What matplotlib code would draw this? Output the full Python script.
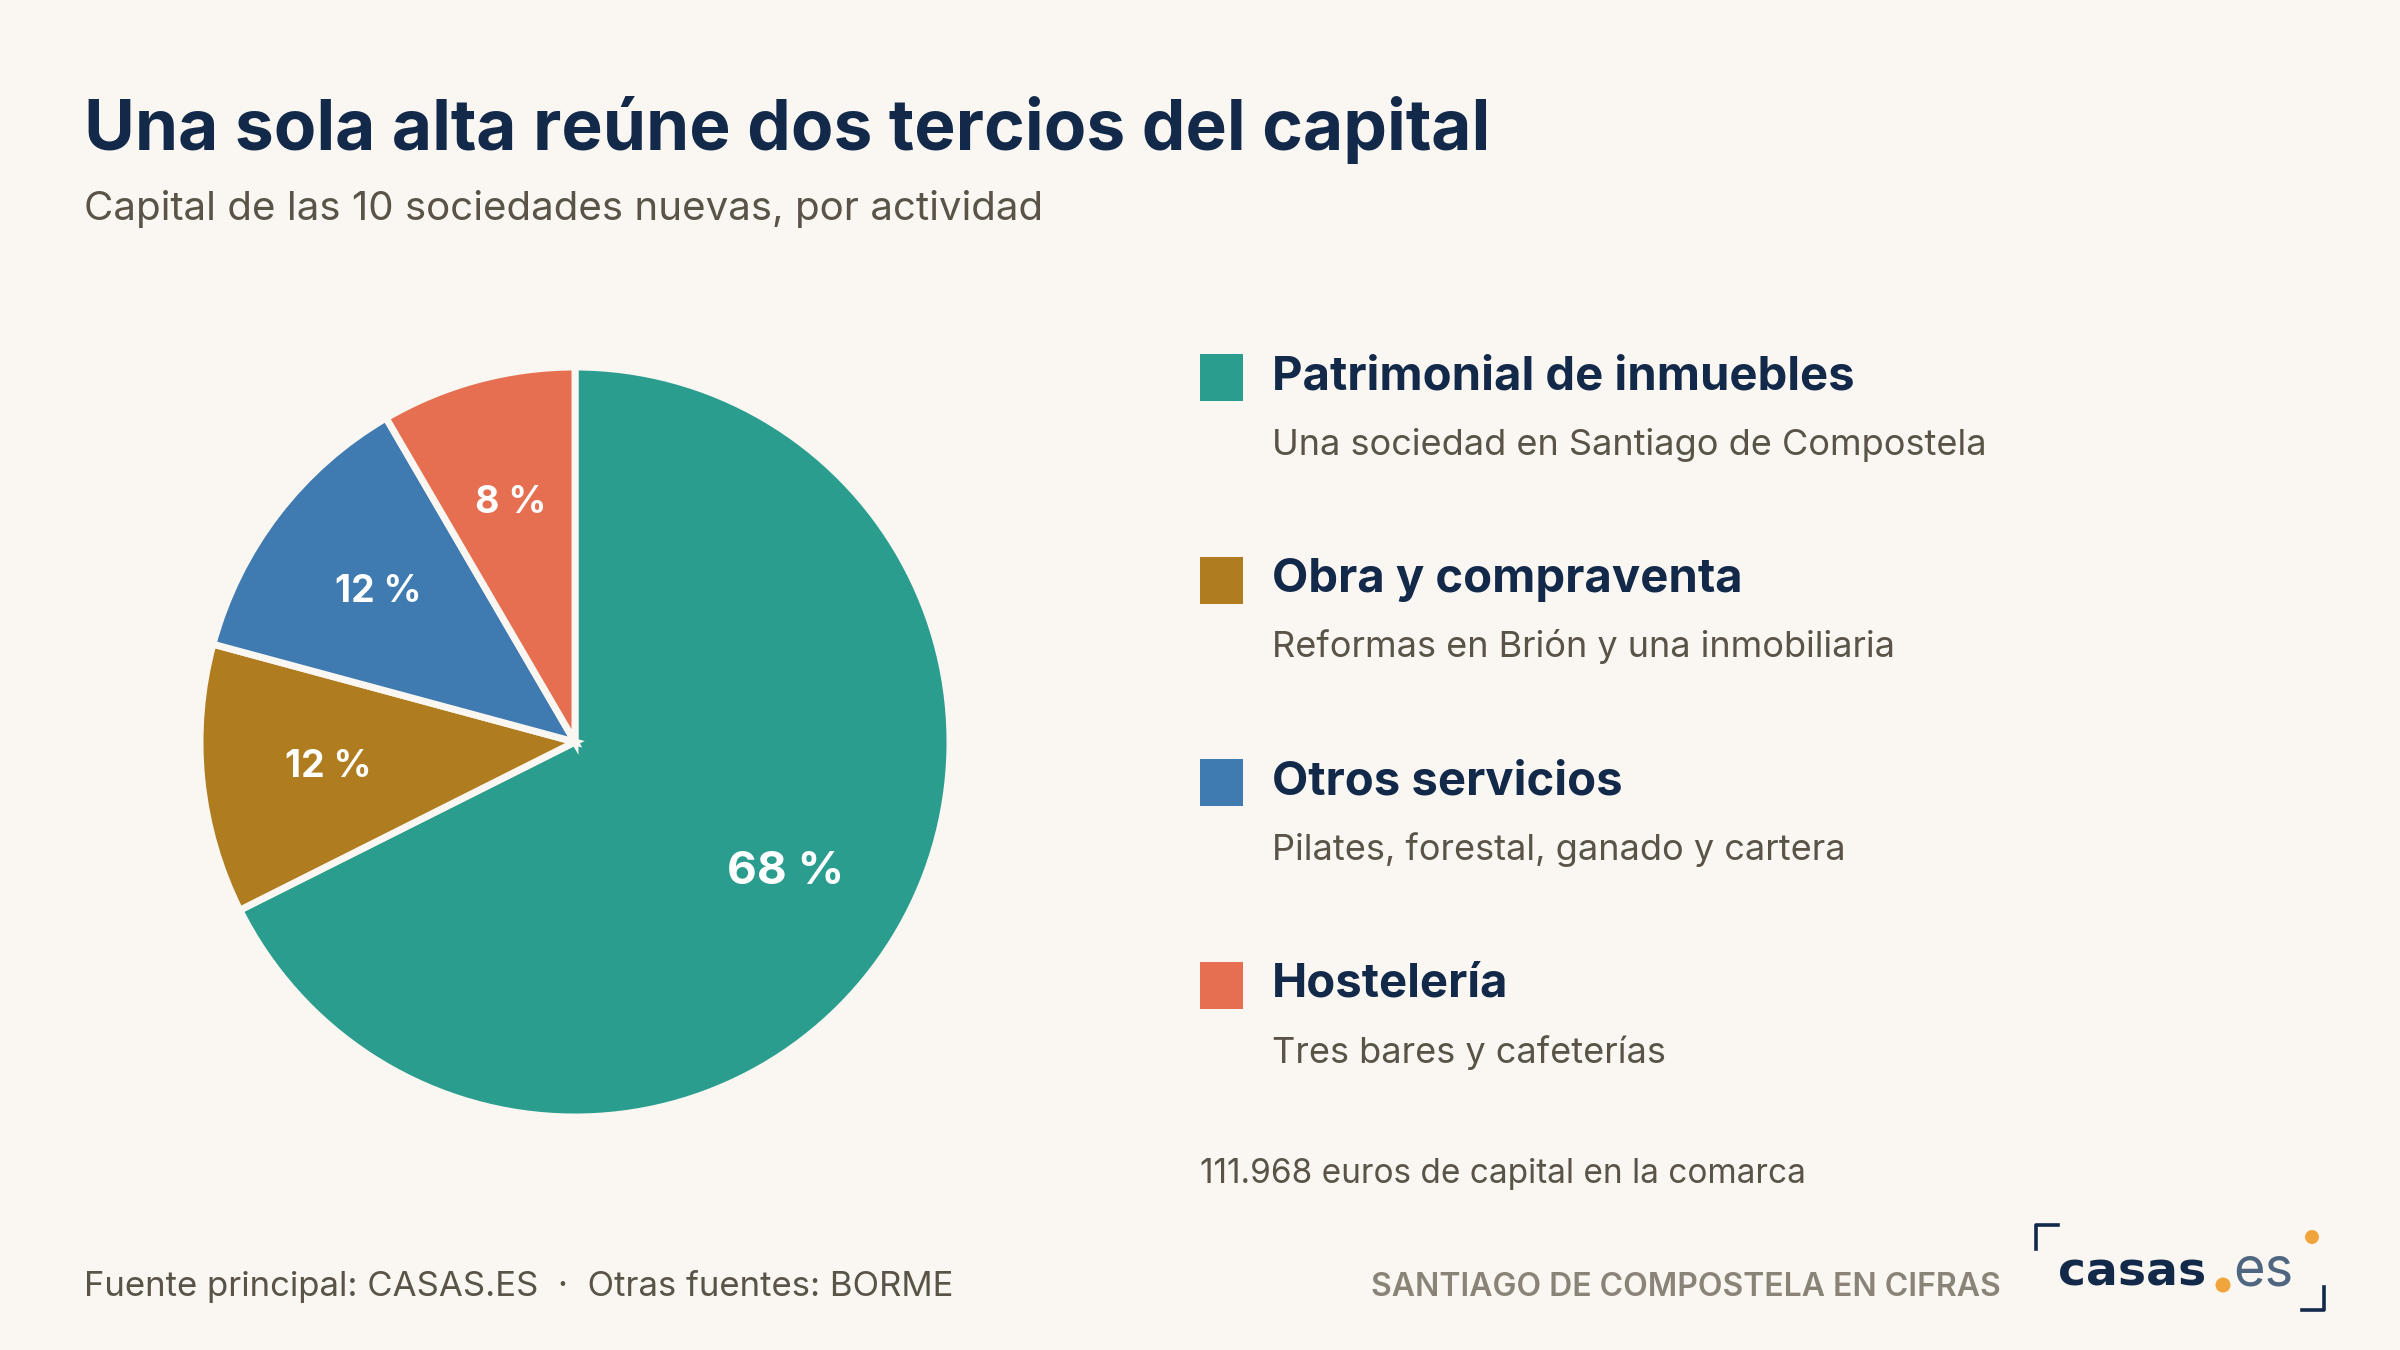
import matplotlib.pyplot as plt
import numpy as np
from matplotlib.patches import Rectangle, Ellipse
from matplotlib.lines import Line2D

# data
categories = ["Patrimonial de inmuebles", "Obra y compraventa", "Otros servicios", "Hostelería"]
descriptions = ["Una sociedad en Santiago de Compostela",
                "Reformas en Brión y una inmobiliaria",
                "Pilates, forestal, ganado y cartera",
                "Tres bares y cafeterías"]
shares = [67.6, 11.6, 12.4, 8.4]
share_labels = ["68 %", "12 %", "12 %", "8 %"]
colors = ["#2a9d8f", "#b07c20", "#3f7ab0", "#e66f51"]

BG = "#faf7f2"
NAVY = "#12294a"
GREY = "#595348"
ORANGE = "#f0a53c"

plt.rcParams['font.family'] = ['Inter', 'DejaVu Sans']

W, H = 2400, 1350
fig = plt.figure(figsize=(24, 13.5), dpi=100, facecolor=BG)


def fx(x):
    return x / W


def fy(y):
    return 1 - y / H


# header
fig.text(fx(84), fy(150), "Una sola alta reúne dos tercios del capital", fontsize=50,
         fontweight='bold', color=NAVY, va='baseline')
fig.text(fx(84), fy(220), "Capital de las 10 sociedades nuevas, por actividad", fontsize=29,
         color=GREY, va='baseline')

# pie
cx, cy, r = 575, 742, 375
ax = fig.add_axes([fx(cx - r), fy(cy + r), 2 * r / W, 2 * r / H])
ax.set_facecolor(BG)
wedges, texts = ax.pie(shares, colors=colors, startangle=90, counterclock=False,
                       radius=1, wedgeprops=dict(edgecolor=BG, linewidth=5))
ax.set_xlim(-1, 1)
ax.set_ylim(-1, 1)
ax.set_aspect('equal')
ax.axis('off')
for w in wedges:
    w.set_clip_on(False)

angle = 90.0
for i, (s, lab) in enumerate(zip(shares, share_labels)):
    mid = np.deg2rad(angle - s * 3.6 / 2)
    angle -= s * 3.6
    ax.text(0.66 * np.cos(mid), 0.66 * np.sin(mid), lab, ha='center', va='center',
            color='white', fontweight='bold', fontsize=33 if i == 0 else 27)

# legend
for i, (cat, desc, c) in enumerate(zip(categories, descriptions, colors)):
    y0 = 354 + i * 202.5
    fig.add_artist(Rectangle((fx(1200), fy(y0 + 47)), 43 / W, 47 / H,
                             transform=fig.transFigure, facecolor=c, edgecolor='none'))
    fig.text(fx(1272), fy(y0 + 35), cat, fontsize=34, fontweight='bold', color=NAVY,
             va='baseline')
    fig.text(fx(1272), fy(y0 + 101), desc, fontsize=26, color=GREY, va='baseline')

fig.text(fx(1200), fy(1183), "111.968 euros de capital en la comarca", fontsize=24,
         color=GREY, va='baseline')

# footer
fig.text(fx(84), fy(1296), "Fuente principal: CASAS.ES  ·  Otras fuentes: BORME", fontsize=25,
         color=GREY, va='baseline')
fig.text(fx(2001), fy(1296), "SANTIAGO DE COMPOSTELA EN CIFRAS", fontsize=23,
         fontweight='semibold', color="#8a8378", va='baseline', ha='right')

# logo
lw = 2.6
fig.add_artist(Line2D([fx(2036), fx(2036), fx(2058)], [fy(1249), fy(1225), fy(1225)],
                      transform=fig.transFigure, color=NAVY, lw=lw))
fig.add_artist(Line2D([fx(2302), fx(2324), fx(2324)], [fy(1310), fy(1310), fy(1287)],
                      transform=fig.transFigure, color=NAVY, lw=lw))
fig.text(fx(2058), fy(1285), "casas", fontsize=34, fontweight='bold', color=NAVY,
         va='baseline', family='DejaVu Sans')
fig.text(fx(2233), fy(1285), "es", fontsize=39, color="#4f6680", va='baseline')
for (x, y, rr) in [(2223, 1285, 7.5), (2312, 1237, 7)]:
    fig.add_artist(Ellipse((fx(x), fy(y)), 2 * rr / W, 2 * rr / H, transform=fig.transFigure,
                           facecolor=ORANGE, edgecolor='none'))

fig.savefig("out.png", dpi=100, facecolor=BG)
